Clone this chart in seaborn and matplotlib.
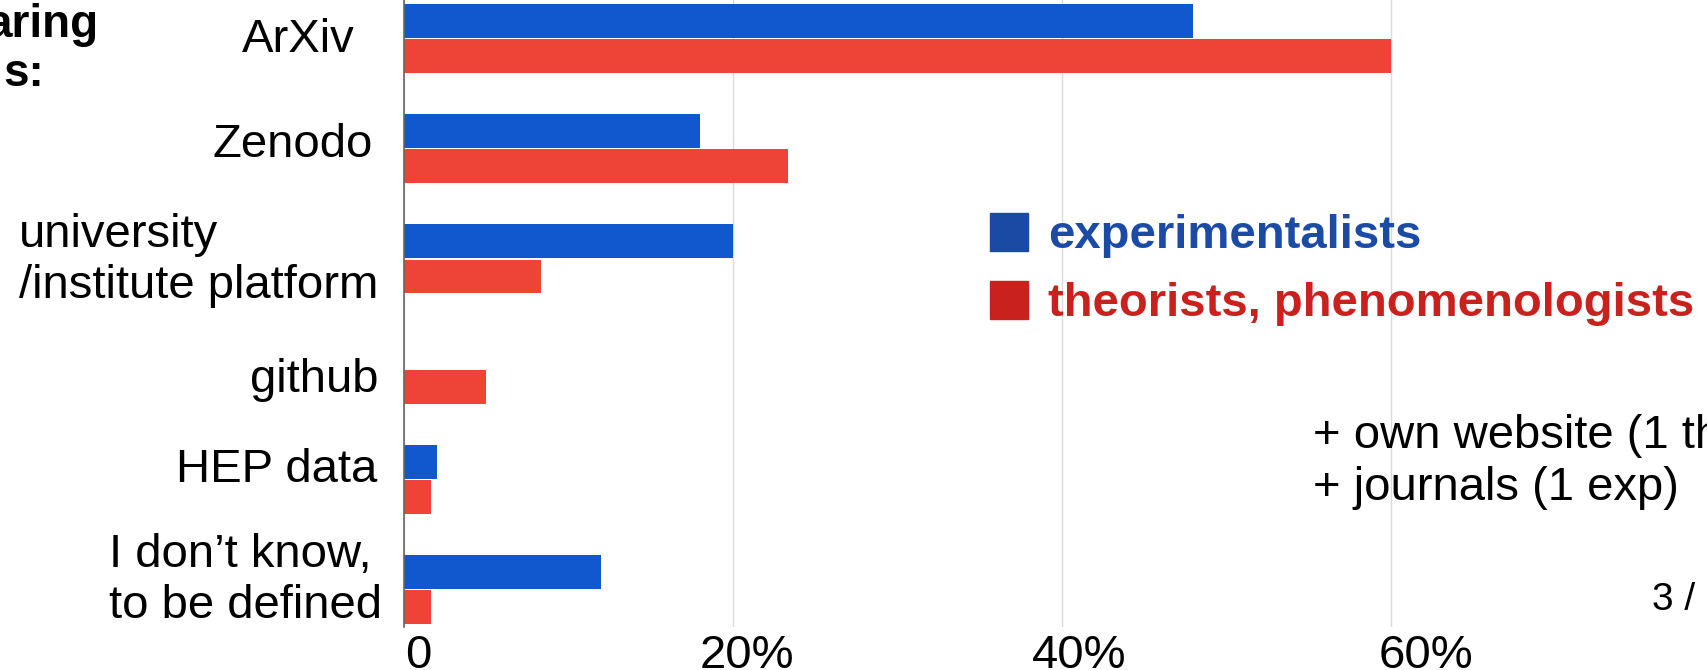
import matplotlib
matplotlib.use("Agg")
import matplotlib.pyplot as plt
import matplotlib.transforms as mtransforms
from matplotlib.patches import Rectangle
import seaborn as sns
import pandas as pd

categories = ["ArXiv", "Zenodo", "university\n/institute platform", "github",
              "HEP data", "I don’t know,\nto be defined"]
experimentalists = [48.0, 18.0, 20.0, 0.0, 2.0, 12.0]
theorists = [60.0, 23.33, 8.33, 5.0, 1.67, 1.67]
group_names = ["experimentalists", "theorists, phenomenologists"]
xticks = [0, 20, 40, 60]
xticklabels = ["0", "20%", "40%", "60%"]

rows = []
for c, e, t in zip(categories, experimentalists, theorists):
    rows.append({"platform": c, "share": e, "group": group_names[0]})
    rows.append({"platform": c, "share": t, "group": group_names[1]})
df = pd.DataFrame(rows)

sns.set_style("white")
plt.rcParams["font.family"] = ["Liberation Sans", "DejaVu Sans"]
plt.rcParams["text.color"] = "black"
plt.rcParams["xtick.color"] = "black"
plt.rcParams["ytick.color"] = "black"

W, H = 1708, 670
fig = plt.figure(figsize=(W / 100, H / 100), dpi=100)
ax = fig.add_axes([404 / W, 43 / H, 1 - 404 / W, 1 - 43 / H])

bar_colors = {group_names[0]: "#1158CF", group_names[1]: "#EE4337"}
sns.barplot(data=df, y="platform", x="share", hue="group", order=categories,
            hue_order=group_names, palette=bar_colors, orient="h",
            width=0.64, gap=0.04, saturation=1, legend=False, ax=ax,
            linewidth=0, zorder=3)

ax.set_xlim(0, 79.3)
ax.set_ylim(5.34, -0.349)
ax.set_xlabel("")
ax.set_ylabel("")
ax.set_xticks(xticks)
ax.set_xticklabels(xticklabels, fontsize=34)
ax.tick_params(axis="x", length=0, pad=5)
ax.tick_params(axis="y", length=0, pad=18.7, labelsize=34)

# per-label nudges (pixels: dx to the right, dy downward), last-line baseline alignment
ylab_dx = [-23, -5, 0, 0, -1, 4]
ylab_dy = [13.5, 8.3, 39.1, 22.9, 2.7, 28.5]
for lab, dx, dy in zip(ax.get_yticklabels(), ylab_dx, ylab_dy):
    lab.set_multialignment("left")
    lab.set_verticalalignment("baseline")
    lab.set_transform(lab.get_transform() +
                      mtransforms.ScaledTranslation(dx / 100, -dy / 100, fig.dpi_scale_trans))

xlab_dx = [14, 14, 17, 35]
for lab, dx in zip(ax.get_xticklabels(), xlab_dx):
    lab.set_transform(lab.get_transform() +
                      mtransforms.ScaledTranslation(dx / 100, 0, fig.dpi_scale_trans))

ax.grid(axis="x", color="#DADADA", linewidth=1.0, zorder=0)
ax.grid(axis="y", visible=False)
for s in ["top", "right", "bottom"]:
    ax.spines[s].set_visible(False)
ax.spines["left"].set_color("#666666")
ax.spines["left"].set_linewidth(1.2)
ax.spines["left"].set_zorder(4)

# legend drawn manually
leg_colors = ["#1A4AA3", "#C9211E"]
text_colors = ["#1B4BA5", "#C9211E"]
sq_tops = [213, 281]
baselines = [248, 316]
for name, sc, tc, top, base in zip(group_names, leg_colors, text_colors, sq_tops, baselines):
    fig.patches.append(Rectangle((990 / W, 1 - (top + 38) / H), 38 / W, 38 / H,
                                 transform=fig.transFigure, color=sc, zorder=5))
    fig.text(1048 / W, 1 - base / H, name, color=tc, fontsize=34, fontweight="bold",
             ha="left", va="baseline")

# side texts
fig.text(99 / W, 1 - 37 / H, "aring", fontsize=33, fontweight="bold", ha="right", va="baseline")
fig.text(44 / W, 1 - 86 / H, "s:", fontsize=33, fontweight="bold", ha="right", va="baseline")
fig.text(1313 / W, 1 - 448 / H, "+ own website (1 th", fontsize=34, ha="left", va="baseline")
fig.text(1313 / W, 1 - 500 / H, "+ journals (1 exp)", fontsize=34, ha="left", va="baseline")
fig.text(1652 / W, 1 - 610 / H, "3 /", fontsize=28, ha="left", va="baseline")

fig.savefig("out.png", dpi=100)
